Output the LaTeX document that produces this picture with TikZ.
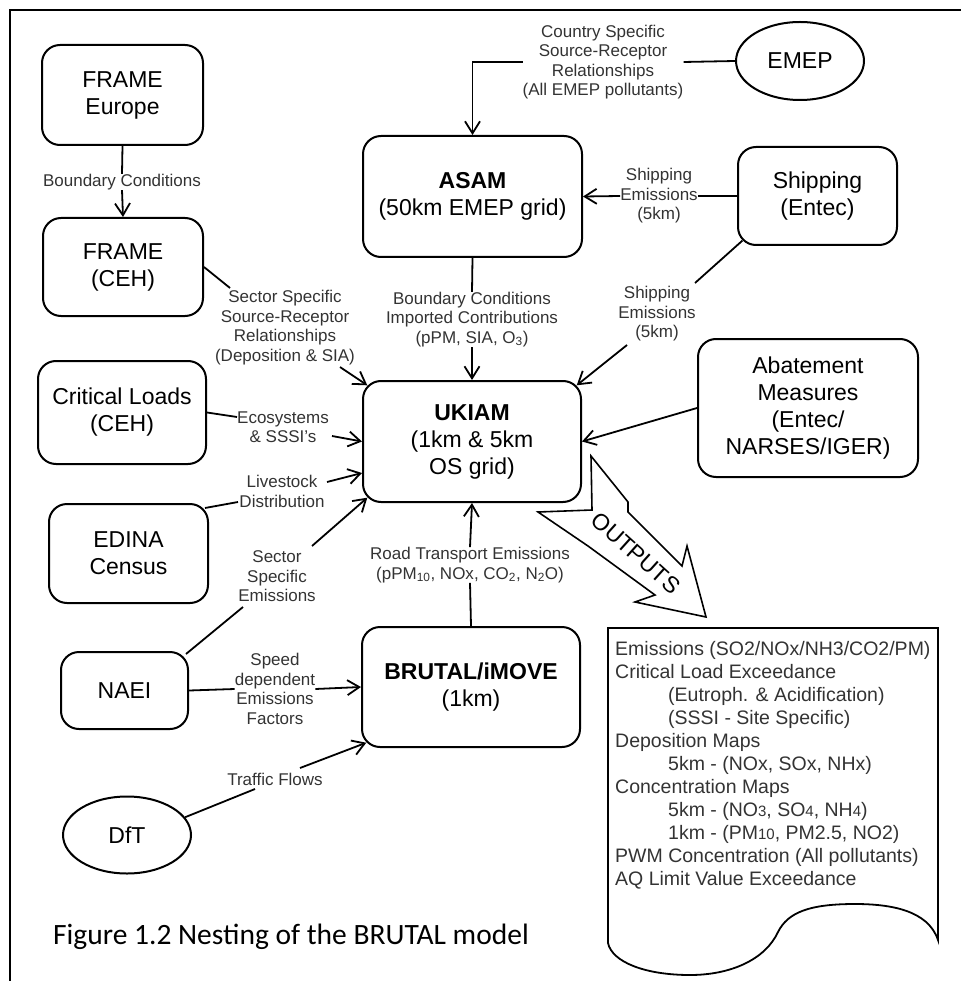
\documentclass[tikz,border=0pt]{standalone}
\usepackage{fontspec}
\setmainfont{Liberation Sans}
\newfontfamily\capfont{Carlito}
\usetikzlibrary{arrows.meta,shapes.geometric,calc}
\newcommand{\dsub}[1]{\textsubscript{#1}}
\newcommand{\dsm}[1]{{\fontsize{15}{15}\selectfont #1}}
\tikzset{
  box/.style={draw, line width=2pt, rounded corners=18pt, inner sep=0pt, align=center, font=\fontsize{23}{27}\selectfont},
  oval/.style={draw, ellipse, line width=2pt, inner sep=0pt, font=\fontsize{23}{27}\selectfont},
  lab/.style={inner sep=0pt, align=center, text=black!80, font=\fontsize{17}{19.5}\selectfont},
  conn/.style={line width=1.8pt},
  arr/.style={line width=1.8pt, -{Straight Barb[length=12pt,width=15pt]}},
}
\begin{document}
\begin{tikzpicture}[x=1pt,y=-1pt]
\useasboundingbox (0,0) rectangle (961,981);
\draw[line width=2pt] (10,981) -- (10,10) -- (961,10);

% boxes
\node[box, minimum width=161pt, minimum height=100pt] (feu) at (122.5,95) {FRAME\\Europe};
\node[box, minimum width=160pt, minimum height=98pt] (fceh) at (123,267) {FRAME\\(CEH)};
\node[box, minimum width=219pt, minimum height=121pt] (asam) at (472.5,196.5) {\bfseries ASAM\\(50km EMEP grid)};
\node[oval, minimum width=128pt, minimum height=78pt] (emep) at (800,61) {EMEP};
\node[box, minimum width=159pt, minimum height=98pt] (ship) at (817.5,196) {Shipping\\(Entec)};
\node[box, minimum width=218pt, minimum height=121pt] (ukiam) at (472,441.5) {{\bfseries UKIAM}\\(1km \& 5km\\OS grid)};
\node[box, minimum width=220pt, minimum height=138pt] (abate) at (808,408) {Abatement\\Measures\\(Entec/\\NARSES/IGER)};
\node[box, minimum width=168pt, minimum height=103pt] (cl) at (122,412.5) {Critical Loads\\(CEH)};
\node[box, minimum width=159pt, minimum height=99pt] (edina) at (128.5,553.5) {EDINA\\Census};
\node[box, minimum width=127pt, minimum height=77pt] (naei) at (124.5,690.5) {NAEI};
\node[box, minimum width=218pt, minimum height=120pt] (brutal) at (471,687) {{\bfseries BRUTAL/iMOVE}\\(1km)};
\node[oval, minimum width=128pt, minimum height=77pt] (dft) at (127,835) {DfT};

% labels
\node[lab] (lbc) at (122,182) {Boundary Conditions};
\node[lab] (lcs) at (603,62) {Country Specific\\Source-Receptor\\Relationships\\(All EMEP pollutants)};
\node[lab] (lse1) at (659,196) {Shipping\\Emissions\\(5km)};
\node[lab] (lse2) at (657,314) {Shipping\\Emissions\\(5km)};
\node[lab] (lbic) at (472,319.5) {Boundary Conditions\\Imported Contributions\\(pPM, SIA, O\dsub{3})};
\node[lab] (lssr) at (285,327.5) {Sector Specific\\Source-Receptor\\Relationships\\(Deposition \& SIA)};
\node[lab] (leco) at (283,427) {Ecosystems\\\& SSSI's};
\node[lab] (lliv) at (282,491.5) {Livestock\\Distribution};
\node[lab] (lsse) at (277,576.5) {Sector\\Specific\\Emissions};
\node[lab] (lspd) at (275,689) {Speed\\dependent\\Emissions\\Factors};
\node[lab] (ltf) at (275,779) {Traffic Flows};
\node[lab] (lrte) at (470,565) {Road Transport Emissions\\(pPM\dsub{10}, NOx, CO\dsub{2}, N\dsub{2}O)};

% helper coordinates
\coordinate (ukiam-nw) at ($(ukiam.north west)+(5.3,5.3)$);
\coordinate (ukiam-ne) at ($(ukiam.north east)+(-5.3,5.3)$);
\coordinate (ukiam-sw) at ($(ukiam.south west)+(5.3,-5.3)$);
\coordinate (ukiam-w2) at ($(ukiam.west)+(0,31.5)$);
\coordinate (brutal-sw) at ($(brutal.south west)+(5.3,-5.3)$);
\coordinate (ship-sw) at ($(ship.south west)+(5.3,-5.3)$);
\coordinate (edina-ne) at ($(edina.north east)+(-4,5)$);
\coordinate (naei-ne) at ($(naei.north east)+(-3,3)$);
\coordinate (q1) at (695,283);
\coordinate (q2) at (627,345);
\coordinate (p1) at (230,288);
\coordinate (p2) at (340,367);
\coordinate (r1) at (237,417);
\coordinate (r2) at (332,436);
\coordinate (s1) at (238,502);
\coordinate (s2) at (327,482);
\coordinate (t1) at (243,607);
\coordinate (t2) at (312,546);
\coordinate (u1) at (255,789);
\coordinate (u2) at (300,768);

% connectors
\draw[conn] (feu.south) -- (lbc.north);
\draw[arr] (lbc.south) -- (fceh.north);
\draw[conn] (emep.west) -- (lcs.east);
\draw[arr] (lcs.west) -| (asam.north);
\draw[conn] (ship.west) -- (lse1.east);
\draw[arr] (lse1.west) -- (asam.east);
\draw[conn] (ship-sw) -- (q1);
\draw[arr] (q2) -- (ukiam-ne);
\draw[conn] (asam.south) -- (lbic.north);
\draw[arr] (lbic.south) -- (ukiam.north);
\draw[conn] (fceh.east) -- (p1);
\draw[arr] (p2) -- (ukiam-nw);
\draw[conn] (cl.east) -- (r1);
\draw[arr] (r2) -- (ukiam.west);
\draw[conn] (edina-ne) -- (s1);
\draw[arr] (s2) -- (ukiam-w2);
\draw[conn] (naei-ne) -- (t1);
\draw[arr] (t2) -- (ukiam-sw);
\draw[conn] (naei.east) -- (lspd.west);
\draw[arr] (lspd.east) -- (brutal.west);
\draw[conn] (dft.17) -- (u1);
\draw[arr] (u2) -- (brutal-sw);
\draw[conn] (brutal.north) -- (lrte.south);
\draw[arr] (lrte.north) -- (ukiam.south);
\draw[arr] (abate.west) -- (ukiam.east);

% OUTPUTS arrow
\draw[line width=1.6pt, line join=miter] (591,456) -- (628,502) -- (628,512) -- (682,566) -- (687,546) -- (706,617) -- (635,602) -- (655,595) -- (588,546) -- (538,512) -- (592,510) -- cycle;
\node[rotate=-42, inner sep=0pt, font=\fontsize{23}{23}\selectfont] (outlab) at (636,553) {OUTPUTS};

% outputs document
\draw[line width=1.8pt] (608,943) -- (608,628) -- (938,628) -- (938,940) .. controls (928,910) and (890,904) .. (855,904) .. controls (810,904) and (788,912) .. (778,932) .. controls (765,960) and (730,975) .. (690,975) .. controls (645,975) and (612,962) .. (608,943);
\node[anchor=north west, inner sep=0pt, align=left, text=black!80, font=\fontsize{19.5}{23}\selectfont] (outtext) at (615,641) {Emissions (SO2/NOx/NH3/CO2/PM)\\Critical Load Exceedance\\\hspace*{53pt}(Eutroph. \& Acidification)\\\hspace*{53pt}(SSSI - Site Specific)\\Deposition Maps\\\hspace*{53pt}5km - (NOx, SOx, NHx)\\Concentration Maps\\\hspace*{53pt}5km - (NO\dsm{3}, SO\dsm{4}, NH\dsm{4})\\\hspace*{53pt}1km - (PM\dsm{10}, PM2.5, NO2)\\PWM Concentration (All pollutants)\\AQ Limit Value Exceedance};

% caption
\node[anchor=west, inner sep=0pt, font=\capfont\fontsize{29.5}{31}\selectfont] (cap) at (53,937) {Figure 1.2 Nesting of the BRUTAL model};
\end{tikzpicture}
\end{document}
